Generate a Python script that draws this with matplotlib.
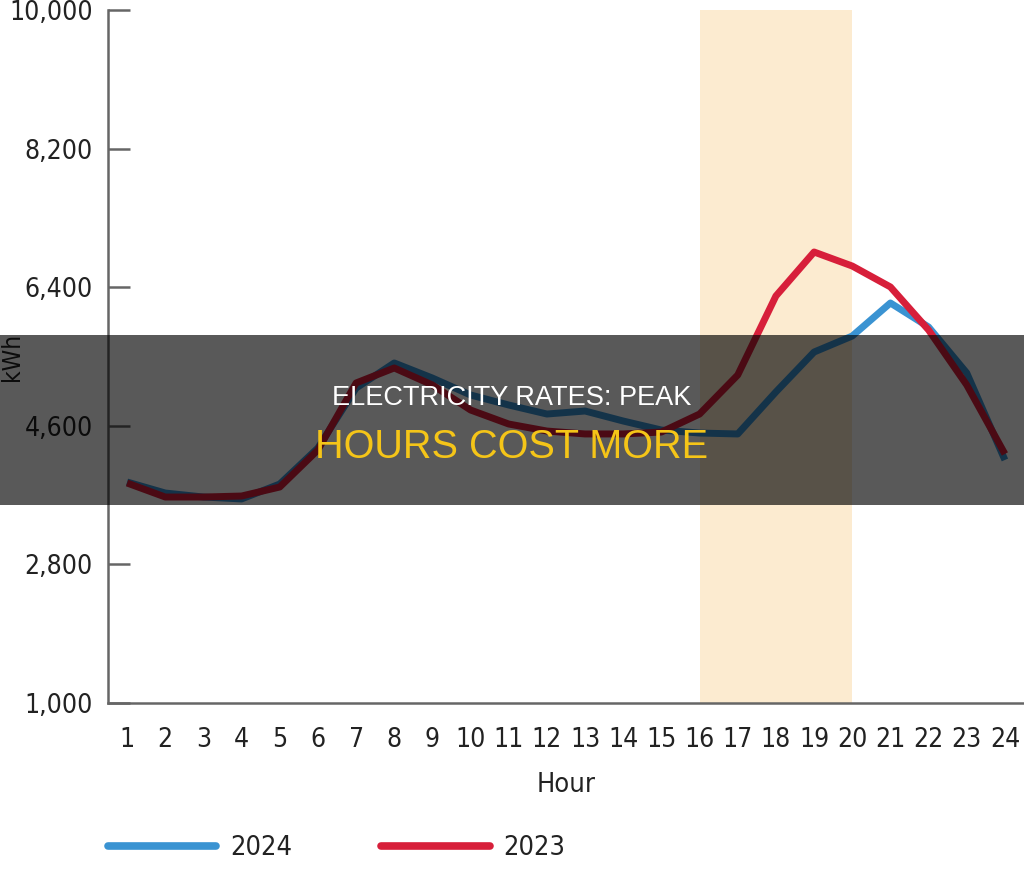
import matplotlib
matplotlib.use("Agg")
import matplotlib.pyplot as plt
from matplotlib.patches import Rectangle
from matplotlib.ticker import FuncFormatter
from matplotlib import font_manager

hours = list(range(1, 25))
kwh_2024 = [3870, 3727, 3675, 3650, 3844, 4312, 5090, 5416, 5220, 5000, 4870, 4753,
            4792, 4662, 4545, 4506, 4494, 5040, 5558, 5766, 6195, 5883, 5286, 4156]
kwh_2023 = [3857, 3675, 3675, 3688, 3805, 4286, 5156, 5351, 5130, 4805, 4623, 4532,
            4494, 4494, 4519, 4753, 5260, 6286, 6857, 6675, 6403, 5844, 5130, 4234]
y_ticks = [1000, 2800, 4600, 6400, 8200, 10000]
peak_start, peak_end = 16, 20
title_line1 = "ELECTRICITY RATES: PEAK"
title_line2 = "HOURS COST MORE"

# look for a condensed face
cond_fp = None
for f in font_manager.fontManager.ttflist:
    low = (f.fname + f.name).lower()
    if ('condensed' in low or 'narrow' in low) and 'bold' not in low and 'italic' not in low \
            and 'oblique' not in low and 'mono' not in low and 'serif' not in f.name.lower():
        cond_fp = font_manager.FontProperties(fname=f.fname)
        break
if cond_fp is None:
    base = font_manager.FontProperties(family='Liberation Sans')
    tick_size, lab_size = 17, 18
else:
    base = cond_fp
    tick_size, lab_size = 19, 19.5

def fp(size):
    p = base.copy()
    p.set_size(size)
    return p

fig = plt.figure(figsize=(10.24, 8.72), dpi=100)
ax = fig.add_axes([108/1024, 1-703/872, 1-108/1024, (703-10)/872])

ax.axvspan(peak_start, peak_end, color='#FCEBD0', zorder=0, lw=0)
l1, = ax.plot(hours, kwh_2024, color='#3A93D2', lw=5, solid_capstyle='butt', zorder=3, label='2024')
l2, = ax.plot(hours, kwh_2023, color='#D71F3A', lw=5, solid_capstyle='butt', zorder=4, label='2023')

ax.set_xlim(0.5, 24.5)
ax.set_ylim(1000, 10000)
ax.set_xticks(hours)
ax.set_yticks(y_ticks)
ax.yaxis.set_major_formatter(FuncFormatter(lambda v, p: f"{int(v):,}"))
for s in ['top', 'right']:
    ax.spines[s].set_visible(False)
for s in ['left', 'bottom']:
    ax.spines[s].set_color('#666666')
    ax.spines[s].set_linewidth(1.8)
ax.tick_params(axis='y', direction='in', length=16, width=1.8, color='#666666',
               pad=11, labelcolor='#222222')
ax.tick_params(axis='x', length=0, pad=17, labelcolor='#222222')
for t in ax.get_xticklabels() + ax.get_yticklabels():
    t.set_fontproperties(fp(tick_size))
ax.set_xlabel('Hour', fontproperties=fp(lab_size), color='#222222', labelpad=14)
ax.set_ylabel('kWh', fontproperties=fp(lab_size - 2), color='#222222')
ax.yaxis.set_label_coords(-0.092, 0.5)

leg = fig.legend(handles=[l1, l2], loc='center left', bbox_to_anchor=(108/1024, 1-848/872),
                 ncol=2, frameon=False, prop=fp(lab_size), handlelength=4.0, handletextpad=0.5,
                 columnspacing=3.3, borderpad=0, borderaxespad=0)
for t in leg.get_texts():
    t.set_color('#222222')
for h in leg.legend_handles:
    h.set_linewidth(5.5)
    h.set_solid_capstyle('round')

# dark overlay band with title
fig.add_artist(Rectangle((0, 1-505/872), 1, (505-335)/872, transform=fig.transFigure,
                         facecolor='black', alpha=0.65, lw=0, zorder=10))
fig.text(0.5, 1-398/872, title_line1, ha='center', va='center', fontsize=19.5,
         color='white', family=['Liberation Sans', 'DejaVu Sans'], zorder=11)
fig.text(0.5, 1-447/872, title_line2, ha='center', va='center', fontsize=28.5,
         color='#F5C518', family=['Liberation Sans', 'DejaVu Sans'], zorder=11)

fig.savefig('out.png', dpi=100)
